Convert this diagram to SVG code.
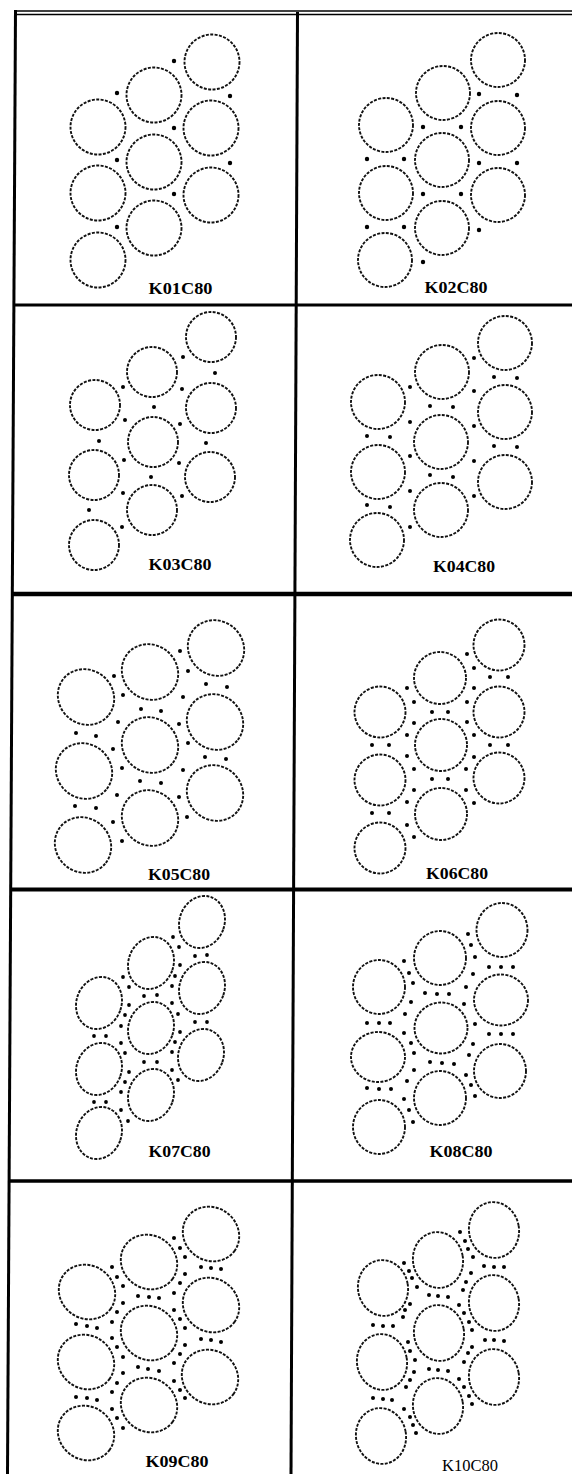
<svg xmlns="http://www.w3.org/2000/svg" width="572" height="1474" viewBox="0 0 572 1474">
<style>
.bg{fill:#fff}
.ln{stroke:#000;fill:none}
.c{fill:none;stroke:#111;stroke-width:1.9;stroke-dasharray:3 1.4}
.d{fill:#000}
.lbl{font-family:"Liberation Serif","Times New Roman",serif;font-size:16px;font-weight:bold;fill:#000;text-anchor:middle}
.lr{font-weight:normal}
</style>
<rect class="bg" x="0" y="0" width="572" height="1474"/>
<g id="grid">
<line class="ln" x1="14" y1="11" x2="572" y2="11" stroke-width="1.6"/>
<line class="ln" x1="14" y1="14.5" x2="572" y2="14.5" stroke-width="1.6"/>
<line class="ln" x1="15.5" y1="10" x2="7.5" y2="1474" stroke-width="3"/>
<line class="ln" x1="297.5" y1="12" x2="291" y2="1474" stroke-width="3"/>
<line class="ln" x1="13" y1="305" x2="572" y2="305" stroke-width="3"/>
<line class="ln" x1="12" y1="594" x2="572" y2="594" stroke-width="4.5" stroke="#222"/>
<line class="ln" x1="10" y1="889.5" x2="572" y2="889.5" stroke-width="4"/>
<line class="ln" x1="8" y1="1181" x2="572" y2="1181" stroke-width="3.5"/>
</g>

<g id="K01C80">
<circle class="c" cx="212" cy="62" r="27.5"/><circle class="c" cx="154" cy="95" r="27.5"/><circle class="c" cx="98" cy="127" r="27.5"/>
<circle class="c" cx="211" cy="128" r="27.5"/><circle class="c" cx="154" cy="162" r="27.5"/><circle class="c" cx="98" cy="193" r="27.5"/>
<circle class="c" cx="211" cy="195" r="27.5"/><circle class="c" cx="154" cy="228" r="27.5"/><circle class="c" cx="98" cy="260" r="27.5"/>
<circle class="d" cx="117" cy="93" r="2.2"/><circle class="d" cx="174" cy="61" r="2.2"/><circle class="d" cx="230" cy="96" r="2.2"/><circle class="d" cx="174" cy="128" r="2.2"/><circle class="d" cx="117" cy="160" r="2.2"/><circle class="d" cx="230" cy="163" r="2.2"/><circle class="d" cx="174" cy="194" r="2.2"/><circle class="d" cx="117" cy="227" r="2.2"/>
<text class="lbl" x="180.5" y="294" textLength="64" lengthAdjust="spacingAndGlyphs">K01C80</text>
</g>

<g id="K02C80">
<circle class="c" cx="498" cy="60" r="27"/><circle class="c" cx="443" cy="93" r="27"/><circle class="c" cx="386" cy="125" r="27"/>
<circle class="c" cx="498" cy="128" r="27"/><circle class="c" cx="442" cy="160" r="27"/><circle class="c" cx="386" cy="193" r="27"/>
<circle class="c" cx="498" cy="195" r="27"/><circle class="c" cx="442" cy="228" r="27"/><circle class="c" cx="385" cy="260" r="27"/>
<circle class="d" cx="479" cy="94" r="2.2"/><circle class="d" cx="517" cy="95" r="2.2"/><circle class="d" cx="423" cy="127" r="2.2"/><circle class="d" cx="461" cy="127" r="2.2"/><circle class="d" cx="367" cy="159" r="2.2"/><circle class="d" cx="404" cy="159" r="2.2"/><circle class="d" cx="479" cy="163" r="2.2"/><circle class="d" cx="517" cy="163" r="2.2"/><circle class="d" cx="423" cy="194" r="2.2"/><circle class="d" cx="461" cy="194" r="2.2"/><circle class="d" cx="367" cy="227" r="2.2"/><circle class="d" cx="404" cy="227" r="2.2"/><circle class="d" cx="479" cy="230" r="2.2"/><circle class="d" cx="423" cy="262" r="2.2"/>
<text class="lbl" x="456" y="293" textLength="63" lengthAdjust="spacingAndGlyphs">K02C80</text>
</g>

<g id="K03C80">
<circle class="c" cx="211" cy="337" r="25"/><circle class="c" cx="152" cy="372" r="25"/><circle class="c" cx="95" cy="405" r="25"/>
<circle class="c" cx="211" cy="408" r="25"/><circle class="c" cx="153" cy="442" r="25"/><circle class="c" cx="94" cy="475" r="25"/>
<circle class="c" cx="210" cy="477" r="25"/><circle class="c" cx="152" cy="510" r="25"/><circle class="c" cx="94" cy="545" r="25"/>
<circle class="d" cx="183" cy="357" r="2"/><circle class="d" cx="215" cy="373" r="2"/><circle class="d" cx="123" cy="387" r="2"/><circle class="d" cx="182" cy="389" r="2"/><circle class="d" cx="154" cy="407" r="2"/><circle class="d" cx="125" cy="420" r="2"/><circle class="d" cx="180" cy="424" r="2"/><circle class="d" cx="99" cy="441" r="2"/><circle class="d" cx="206" cy="443" r="2"/><circle class="d" cx="124" cy="460" r="2"/><circle class="d" cx="179" cy="463" r="2"/><circle class="d" cx="151" cy="477" r="2"/><circle class="d" cx="123" cy="493" r="2"/><circle class="d" cx="182" cy="496" r="2"/><circle class="d" cx="89" cy="510" r="2"/><circle class="d" cx="122" cy="527" r="2"/>
<text class="lbl" x="180" y="570" textLength="63" lengthAdjust="spacingAndGlyphs">K03C80</text>
</g>

<g id="K04C80">
<circle class="c" cx="505" cy="343" r="27"/><circle class="c" cx="442" cy="372" r="27"/><circle class="c" cx="378" cy="402" r="27"/>
<circle class="c" cx="505" cy="412" r="27"/><circle class="c" cx="441" cy="442" r="27"/><circle class="c" cx="378" cy="472" r="27"/>
<circle class="c" cx="505" cy="482" r="27"/><circle class="c" cx="441" cy="510" r="27"/><circle class="c" cx="377" cy="540" r="27"/>
<circle class="d" cx="474" cy="358" r="2"/><circle class="d" cx="494" cy="377" r="2"/><circle class="d" cx="517" cy="378" r="2"/><circle class="d" cx="410" cy="387" r="2"/><circle class="d" cx="474" cy="391" r="2"/><circle class="d" cx="430" cy="406" r="2"/><circle class="d" cx="453" cy="407" r="2"/><circle class="d" cx="410" cy="422" r="2"/><circle class="d" cx="474" cy="426" r="2"/><circle class="d" cx="367" cy="436" r="2"/><circle class="d" cx="390" cy="437" r="2"/><circle class="d" cx="494" cy="446" r="2"/><circle class="d" cx="517" cy="447" r="2"/><circle class="d" cx="410" cy="456" r="2"/><circle class="d" cx="474" cy="461" r="2"/><circle class="d" cx="430" cy="475" r="2"/><circle class="d" cx="453" cy="477" r="2"/><circle class="d" cx="410" cy="491" r="2"/><circle class="d" cx="474" cy="496" r="2"/><circle class="d" cx="367" cy="505" r="2"/><circle class="d" cx="390" cy="507" r="2"/><circle class="d" cx="410" cy="527" r="2"/>
<text class="lbl" x="464" y="572" textLength="62" lengthAdjust="spacingAndGlyphs">K04C80</text>
</g>

<g id="K05C80">
<ellipse class="c" cx="216" cy="648" rx="29" ry="27" transform="rotate(40 216 648)"/><ellipse class="c" cx="150" cy="672" rx="29" ry="27" transform="rotate(40 150 672)"/><ellipse class="c" cx="86" cy="697" rx="29" ry="27" transform="rotate(40 86 697)"/>
<ellipse class="c" cx="215" cy="722" rx="29" ry="27" transform="rotate(40 215 722)"/><ellipse class="c" cx="150" cy="745" rx="29" ry="27" transform="rotate(40 150 745)"/><ellipse class="c" cx="84" cy="771" rx="29" ry="27" transform="rotate(40 84 771)"/>
<ellipse class="c" cx="215" cy="793" rx="29" ry="27" transform="rotate(40 215 793)"/><ellipse class="c" cx="150" cy="818" rx="29" ry="27" transform="rotate(40 150 818)"/><ellipse class="c" cx="83" cy="845" rx="29" ry="27" transform="rotate(40 83 845)"/>
<circle class="d" cx="180" cy="651" r="2"/><circle class="d" cx="188" cy="671" r="2"/><circle class="d" cx="114" cy="676" r="2"/><circle class="d" cx="206" cy="684" r="2"/><circle class="d" cx="227" cy="687" r="2"/><circle class="d" cx="123" cy="695" r="2"/><circle class="d" cx="183" cy="697" r="2"/><circle class="d" cx="141" cy="709" r="2"/><circle class="d" cx="161" cy="711" r="2"/><circle class="d" cx="118" cy="722" r="2"/><circle class="d" cx="179" cy="724" r="2"/><circle class="d" cx="76" cy="733" r="2"/><circle class="d" cx="96" cy="736" r="2"/><circle class="d" cx="188" cy="743" r="2"/><circle class="d" cx="113" cy="749" r="2"/><circle class="d" cx="205" cy="757" r="2"/><circle class="d" cx="226" cy="759" r="2"/><circle class="d" cx="122" cy="768" r="2"/><circle class="d" cx="183" cy="770" r="2"/><circle class="d" cx="140" cy="781" r="2"/><circle class="d" cx="161" cy="783" r="2"/><circle class="d" cx="117" cy="795" r="2"/><circle class="d" cx="179" cy="797" r="2"/><circle class="d" cx="75" cy="806" r="2"/><circle class="d" cx="96" cy="808" r="2"/><circle class="d" cx="187" cy="817" r="2"/><circle class="d" cx="113" cy="822" r="2"/><circle class="d" cx="122" cy="841" r="2"/>
<text class="lbl" x="179" y="880" textLength="62" lengthAdjust="spacingAndGlyphs">K05C80</text>
</g>

<g id="K06C80">
<circle class="c" cx="499" cy="645" r="25.5"/><circle class="c" cx="440" cy="678" r="26"/><circle class="c" cx="380" cy="712" r="25.5"/>
<circle class="c" cx="499" cy="712" r="25.5"/><circle class="c" cx="441" cy="745" r="26"/><circle class="c" cx="380" cy="780" r="25.5"/>
<circle class="c" cx="499" cy="778" r="25.5"/><circle class="c" cx="441" cy="814" r="26"/><circle class="c" cx="380" cy="848" r="25.5"/>
<circle class="d" cx="467" cy="654" r="2"/><circle class="d" cx="474" cy="668" r="2"/><circle class="d" cx="490" cy="677" r="2"/><circle class="d" cx="508" cy="677" r="2"/><circle class="d" cx="407" cy="688" r="2"/><circle class="d" cx="474" cy="688" r="2"/><circle class="d" cx="414" cy="702" r="2"/><circle class="d" cx="467" cy="702" r="2"/><circle class="d" cx="432" cy="712" r="2"/><circle class="d" cx="448" cy="712" r="2"/><circle class="d" cx="414" cy="723" r="2"/><circle class="d" cx="467" cy="722" r="2"/><circle class="d" cx="407" cy="735" r="2"/><circle class="d" cx="474" cy="735" r="2"/><circle class="d" cx="372" cy="745" r="2"/><circle class="d" cx="389" cy="745" r="2"/><circle class="d" cx="490" cy="745" r="2"/><circle class="d" cx="508" cy="745" r="2"/><circle class="d" cx="407" cy="756" r="2"/><circle class="d" cx="474" cy="757" r="2"/><circle class="d" cx="414" cy="769" r="2"/><circle class="d" cx="466" cy="769" r="2"/><circle class="d" cx="432" cy="779" r="2"/><circle class="d" cx="448" cy="779" r="2"/><circle class="d" cx="414" cy="790" r="2"/><circle class="d" cx="466" cy="790" r="2"/><circle class="d" cx="407" cy="802" r="2"/><circle class="d" cx="474" cy="803" r="2"/><circle class="d" cx="372" cy="813" r="2"/><circle class="d" cx="389" cy="813" r="2"/><circle class="d" cx="407" cy="825" r="2"/><circle class="d" cx="414" cy="837" r="2"/>
<text class="lbl" x="457" y="879" textLength="62" lengthAdjust="spacingAndGlyphs">K06C80</text>
</g>

<g id="K07C80">
<ellipse class="c" cx="202" cy="922" rx="22.5" ry="26.5" transform="rotate(20 202 922)"/><ellipse class="c" cx="151" cy="963" rx="22.5" ry="26.5" transform="rotate(20 151 963)"/><ellipse class="c" cx="99" cy="1003" rx="22.5" ry="26.5" transform="rotate(20 99 1003)"/>
<ellipse class="c" cx="202" cy="988" rx="22.5" ry="26.5" transform="rotate(20 202 988)"/><ellipse class="c" cx="151" cy="1028" rx="22.5" ry="26.5" transform="rotate(20 151 1028)"/><ellipse class="c" cx="99" cy="1069" rx="22.5" ry="26.5" transform="rotate(20 99 1069)"/>
<ellipse class="c" cx="201" cy="1055" rx="22.5" ry="26.5" transform="rotate(20 201 1055)"/><ellipse class="c" cx="151" cy="1095" rx="22.5" ry="26.5" transform="rotate(20 151 1095)"/><ellipse class="c" cx="99" cy="1133" rx="22.5" ry="26.5" transform="rotate(20 99 1133)"/>
<circle class="d" cx="173" cy="937" r="1.9"/><circle class="d" cx="179" cy="947" r="1.9"/><circle class="d" cx="195" cy="956" r="1.9"/><circle class="d" cx="207" cy="955" r="1.9"/><circle class="d" cx="123" cy="977" r="1.9"/><circle class="d" cx="180" cy="965" r="1.9"/><circle class="d" cx="175" cy="976" r="1.9"/><circle class="d" cx="129" cy="987" r="1.9"/><circle class="d" cx="172" cy="986" r="1.9"/><circle class="d" cx="144" cy="996" r="1.9"/><circle class="d" cx="157" cy="995" r="1.9"/><circle class="d" cx="129" cy="1005" r="1.9"/><circle class="d" cx="172" cy="1003" r="1.9"/><circle class="d" cx="125" cy="1015" r="1.9"/><circle class="d" cx="178" cy="1014" r="1.9"/><circle class="d" cx="121" cy="1026" r="1.9"/><circle class="d" cx="195" cy="1022" r="1.9"/><circle class="d" cx="207" cy="1022" r="1.9"/><circle class="d" cx="94" cy="1036" r="1.9"/><circle class="d" cx="106" cy="1036" r="1.9"/><circle class="d" cx="180" cy="1032" r="1.9"/><circle class="d" cx="121" cy="1043" r="1.9"/><circle class="d" cx="175" cy="1042" r="1.9"/><circle class="d" cx="125" cy="1053" r="1.9"/><circle class="d" cx="172" cy="1052" r="1.9"/><circle class="d" cx="144" cy="1062" r="1.9"/><circle class="d" cx="157" cy="1062" r="1.9"/><circle class="d" cx="129" cy="1072" r="1.9"/><circle class="d" cx="172" cy="1070" r="1.9"/><circle class="d" cx="125" cy="1082" r="1.9"/><circle class="d" cx="178" cy="1080" r="1.9"/><circle class="d" cx="121" cy="1092" r="1.9"/><circle class="d" cx="94" cy="1102" r="1.9"/><circle class="d" cx="106" cy="1102" r="1.9"/><circle class="d" cx="121" cy="1110" r="1.9"/><circle class="d" cx="128" cy="1121" r="1.9"/>
<text class="lbl" x="179.5" y="1157" textLength="62" lengthAdjust="spacingAndGlyphs">K07C80</text>
</g>

<g id="K08C80">
<ellipse class="c" cx="502" cy="930" rx="25.5" ry="27"/><ellipse class="c" cx="440" cy="958" rx="26" ry="27"/><ellipse class="c" cx="379" cy="987" rx="26" ry="27"/>
<ellipse class="c" cx="501" cy="1000" rx="27" ry="25.5"/><ellipse class="c" cx="441" cy="1028" rx="26.5" ry="25.5"/><ellipse class="c" cx="378" cy="1057" rx="27" ry="25"/>
<ellipse class="c" cx="500" cy="1071" rx="26" ry="27"/><ellipse class="c" cx="440" cy="1098" rx="26" ry="27"/><ellipse class="c" cx="379" cy="1127" rx="26" ry="27"/>
<circle class="d" cx="468" cy="934" r="2"/><circle class="d" cx="471" cy="945" r="2"/><circle class="d" cx="475" cy="957" r="2"/><circle class="d" cx="489" cy="967" r="2"/><circle class="d" cx="501" cy="967" r="2"/><circle class="d" cx="513" cy="967" r="2"/><circle class="d" cx="404" cy="961" r="2"/><circle class="d" cx="409" cy="973" r="2"/><circle class="d" cx="413" cy="983" r="2"/><circle class="d" cx="473" cy="974" r="2"/><circle class="d" cx="466" cy="987" r="2"/><circle class="d" cx="425" cy="993" r="2"/><circle class="d" cx="437" cy="994" r="2"/><circle class="d" cx="449" cy="994" r="2"/><circle class="d" cx="411" cy="1002" r="2"/><circle class="d" cx="464" cy="1004" r="2"/><circle class="d" cx="405" cy="1014" r="2"/><circle class="d" cx="475" cy="1024" r="2"/><circle class="d" cx="367" cy="1023" r="2"/><circle class="d" cx="379" cy="1023" r="2"/><circle class="d" cx="390" cy="1023" r="2"/><circle class="d" cx="404" cy="1033" r="2"/><circle class="d" cx="489" cy="1034" r="2"/><circle class="d" cx="501" cy="1034" r="2"/><circle class="d" cx="513" cy="1034" r="2"/><circle class="d" cx="411" cy="1043" r="2"/><circle class="d" cx="473" cy="1044" r="2"/><circle class="d" cx="414" cy="1053" r="2"/><circle class="d" cx="469" cy="1055" r="2"/><circle class="d" cx="430" cy="1062" r="2"/><circle class="d" cx="442" cy="1063" r="2"/><circle class="d" cx="454" cy="1064" r="2"/><circle class="d" cx="414" cy="1070" r="2"/><circle class="d" cx="466" cy="1075" r="2"/><circle class="d" cx="407" cy="1081" r="2"/><circle class="d" cx="471" cy="1085" r="2"/><circle class="d" cx="367" cy="1088" r="2"/><circle class="d" cx="379" cy="1089" r="2"/><circle class="d" cx="391" cy="1089" r="2"/><circle class="d" cx="475" cy="1096" r="2"/><circle class="d" cx="404" cy="1099" r="2"/><circle class="d" cx="409" cy="1110" r="2"/><circle class="d" cx="413" cy="1122" r="2"/>
<text class="lbl" x="461" y="1157" textLength="63" lengthAdjust="spacingAndGlyphs">K08C80</text>
</g>

<g id="K09C80">
<ellipse class="c" cx="211" cy="1234" rx="29" ry="26.5" transform="rotate(35 211 1234)"/><ellipse class="c" cx="149" cy="1262" rx="29" ry="26.5" transform="rotate(35 149 1262)"/><ellipse class="c" cx="87" cy="1292" rx="29" ry="26.5" transform="rotate(35 87 1292)"/>
<ellipse class="c" cx="211" cy="1305" rx="29" ry="26.5" transform="rotate(35 211 1305)"/><ellipse class="c" cx="149" cy="1333" rx="29" ry="26.5" transform="rotate(35 149 1333)"/><ellipse class="c" cx="86" cy="1362" rx="29" ry="26.5" transform="rotate(35 86 1362)"/>
<ellipse class="c" cx="210" cy="1377" rx="29" ry="26.5" transform="rotate(35 210 1377)"/><ellipse class="c" cx="149" cy="1405" rx="29" ry="26.5" transform="rotate(35 149 1405)"/><ellipse class="c" cx="86" cy="1433" rx="29" ry="26.5" transform="rotate(35 86 1433)"/>
<circle class="d" cx="174" cy="1238" r="2"/><circle class="d" cx="180" cy="1248" r="2"/><circle class="d" cx="185" cy="1257" r="2"/><circle class="d" cx="201" cy="1267" r="2"/><circle class="d" cx="211" cy="1268" r="2"/><circle class="d" cx="221" cy="1269" r="2"/><circle class="d" cx="112" cy="1267" r="2"/><circle class="d" cx="117" cy="1277" r="2"/><circle class="d" cx="123" cy="1286" r="2"/><circle class="d" cx="185" cy="1274" r="2"/><circle class="d" cx="180" cy="1283" r="2"/><circle class="d" cx="174" cy="1293" r="2"/><circle class="d" cx="138" cy="1296" r="2"/><circle class="d" cx="149" cy="1297" r="2"/><circle class="d" cx="159" cy="1298" r="2"/><circle class="d" cx="123" cy="1303" r="2"/><circle class="d" cx="117" cy="1312" r="2"/><circle class="d" cx="112" cy="1322" r="2"/><circle class="d" cx="174" cy="1310" r="2"/><circle class="d" cx="180" cy="1319" r="2"/><circle class="d" cx="185" cy="1328" r="2"/><circle class="d" cx="76" cy="1324" r="2"/><circle class="d" cx="87" cy="1326" r="2"/><circle class="d" cx="97" cy="1328" r="2"/><circle class="d" cx="201" cy="1339" r="2"/><circle class="d" cx="211" cy="1340" r="2"/><circle class="d" cx="221" cy="1342" r="2"/><circle class="d" cx="112" cy="1338" r="2"/><circle class="d" cx="117" cy="1347" r="2"/><circle class="d" cx="123" cy="1357" r="2"/><circle class="d" cx="185" cy="1345" r="2"/><circle class="d" cx="180" cy="1354" r="2"/><circle class="d" cx="174" cy="1363" r="2"/><circle class="d" cx="138" cy="1367" r="2"/><circle class="d" cx="148" cy="1369" r="2"/><circle class="d" cx="159" cy="1371" r="2"/><circle class="d" cx="123" cy="1373" r="2"/><circle class="d" cx="117" cy="1383" r="2"/><circle class="d" cx="112" cy="1392" r="2"/><circle class="d" cx="174" cy="1381" r="2"/><circle class="d" cx="180" cy="1390" r="2"/><circle class="d" cx="185" cy="1398" r="2"/><circle class="d" cx="76" cy="1397" r="2"/><circle class="d" cx="87" cy="1398" r="2"/><circle class="d" cx="97" cy="1400" r="2"/><circle class="d" cx="112" cy="1409" r="2"/><circle class="d" cx="117" cy="1418" r="2"/><circle class="d" cx="123" cy="1428" r="2"/>
<text class="lbl" x="177" y="1467" textLength="63" lengthAdjust="spacingAndGlyphs">K09C80</text>
</g>

<g id="K10C80">
<ellipse class="c" cx="494" cy="1230" rx="25" ry="28" transform="rotate(-10 494 1230)"/><ellipse class="c" cx="438" cy="1260" rx="25" ry="28" transform="rotate(-10 438 1260)"/><ellipse class="c" cx="383" cy="1288" rx="25" ry="28" transform="rotate(-10 383 1288)"/>
<ellipse class="c" cx="494" cy="1303" rx="25" ry="28" transform="rotate(-10 494 1303)"/><ellipse class="c" cx="439" cy="1333" rx="25" ry="28" transform="rotate(-10 439 1333)"/><ellipse class="c" cx="382" cy="1362" rx="25" ry="28" transform="rotate(-10 382 1362)"/>
<ellipse class="c" cx="494" cy="1377" rx="25" ry="28" transform="rotate(-10 494 1377)"/><ellipse class="c" cx="438" cy="1406" rx="25" ry="28" transform="rotate(-10 438 1406)"/><ellipse class="c" cx="381" cy="1436" rx="25" ry="28" transform="rotate(-10 381 1436)"/>
<circle class="d" cx="460" cy="1232" r="2"/><circle class="d" cx="465" cy="1241" r="2"/><circle class="d" cx="468" cy="1249" r="2"/><circle class="d" cx="473" cy="1257" r="2"/><circle class="d" cx="484" cy="1266" r="2"/><circle class="d" cx="494" cy="1267" r="2"/><circle class="d" cx="504" cy="1267" r="2"/><circle class="d" cx="404" cy="1263" r="2"/><circle class="d" cx="409" cy="1271" r="2"/><circle class="d" cx="412" cy="1278" r="2"/><circle class="d" cx="417" cy="1287" r="2"/><circle class="d" cx="471" cy="1273" r="2"/><circle class="d" cx="466" cy="1282" r="2"/><circle class="d" cx="463" cy="1290" r="2"/><circle class="d" cx="429" cy="1295" r="2"/><circle class="d" cx="438" cy="1296" r="2"/><circle class="d" cx="448" cy="1297" r="2"/><circle class="d" cx="410" cy="1304" r="2"/><circle class="d" cx="405" cy="1310" r="2"/><circle class="d" cx="403" cy="1317" r="2"/><circle class="d" cx="459" cy="1305" r="2"/><circle class="d" cx="464" cy="1313" r="2"/><circle class="d" cx="469" cy="1322" r="2"/><circle class="d" cx="472" cy="1330" r="2"/><circle class="d" cx="373" cy="1325" r="2"/><circle class="d" cx="383" cy="1326" r="2"/><circle class="d" cx="393" cy="1326" r="2"/><circle class="d" cx="485" cy="1340" r="2"/><circle class="d" cx="494" cy="1340" r="2"/><circle class="d" cx="504" cy="1341" r="2"/><circle class="d" cx="408" cy="1342" r="2"/><circle class="d" cx="410" cy="1351" r="2"/><circle class="d" cx="415" cy="1360" r="2"/><circle class="d" cx="472" cy="1347" r="2"/><circle class="d" cx="468" cy="1353" r="2"/><circle class="d" cx="464" cy="1362" r="2"/><circle class="d" cx="429" cy="1369" r="2"/><circle class="d" cx="438" cy="1370" r="2"/><circle class="d" cx="448" cy="1371" r="2"/><circle class="d" cx="414" cy="1372" r="2"/><circle class="d" cx="410" cy="1380" r="2"/><circle class="d" cx="406" cy="1387" r="2"/><circle class="d" cx="459" cy="1379" r="2"/><circle class="d" cx="464" cy="1387" r="2"/><circle class="d" cx="469" cy="1396" r="2"/><circle class="d" cx="472" cy="1404" r="2"/><circle class="d" cx="373" cy="1398" r="2"/><circle class="d" cx="383" cy="1399" r="2"/><circle class="d" cx="392" cy="1400" r="2"/><circle class="d" cx="404" cy="1409" r="2"/><circle class="d" cx="410" cy="1417" r="2"/><circle class="d" cx="413" cy="1425" r="2"/><circle class="d" cx="416" cy="1433" r="2"/>
<text class="lbl lr" x="470" y="1471" font-size="17" textLength="56" lengthAdjust="spacingAndGlyphs">K10C80</text>
</g>
</svg>
